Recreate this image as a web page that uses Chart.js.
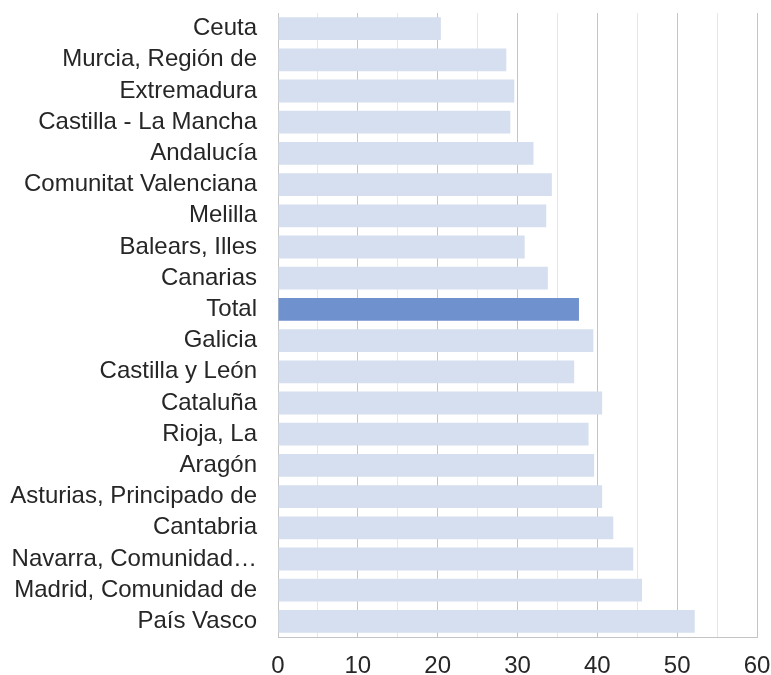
<!DOCTYPE html>
<html>
<head>
<meta charset="utf-8">
<script src="https://cdn.jsdelivr.net/npm/chart.js@4/dist/chart.umd.min.js"></script>
<style>
  html, body { margin: 0; padding: 0; background: #ffffff; }
  #wrap { width: 771px; height: 675px; position: relative; }
</style>
</head>
<body>
<div id="wrap"><canvas id="c" width="771" height="675"></canvas></div>
<script>
const categories = [
  "Ceuta", "Murcia, Región de", "Extremadura", "Castilla - La Mancha", "Andalucía",
  "Comunitat Valenciana", "Melilla", "Balears, Illes", "Canarias", "Total",
  "Galicia", "Castilla y León", "Cataluña", "Rioja, La", "Aragón",
  "Asturias, Principado de", "Cantabria", "Navarra, Comunidad…", "Madrid, Comunidad de", "País Vasco"
];
const values = [
  20.4, 28.6, 29.6, 29.1, 32.0,
  34.3, 33.6, 30.9, 33.8, 37.7,
  39.5, 37.1, 40.6, 38.9, 39.6,
  40.6, 42.0, 44.5, 45.6, 52.2
];
const highlightCategory = "Total";
const xTicks = [0, 10, 20, 30, 40, 50, 60];

const lightColor = "#D5DFEF";
const darkColor = "#6F91CD";

Chart.defaults.font.family = "'Liberation Sans', Arial, sans-serif";
Chart.defaults.color = "#262626";

new Chart(document.getElementById("c"), {
  type: "bar",
  data: {
    labels: categories,
    datasets: [{
      data: values,
      backgroundColor: categories.map(c => c === highlightCategory ? darkColor : lightColor),
      borderWidth: 0,
      barPercentage: 0.73,
      categoryPercentage: 1.0
    }]
  },
  options: {
    indexAxis: "y",
    responsive: false,
    animation: false,
    devicePixelRatio: 1,
    layout: { padding: { top: 13, right: 14, bottom: 0, left: 0 } },
    plugins: { legend: { display: false }, tooltip: { enabled: false } },
    scales: {
      x: {
        min: xTicks[0],
        max: xTicks[xTicks.length - 1],
        ticks: {
          stepSize: 5,
          autoSkip: false,
          maxRotation: 0,
          padding: 15,
          font: { size: 24 },
          color: "#262626",
          callback: (v) => (xTicks.includes(v) ? String(v) : "")
        },
        grid: {
          drawTicks: false,
          lineWidth: 1,
          color: (ctx) => (ctx.tick && ctx.tick.value % 10 === 0 ? "#c4c4c4" : "#e6e6e6")
        },
        border: { display: true, color: "#c4c4c4" },
        afterFit: (s) => { s.height = 38; s.paddingLeft = 0; s.paddingRight = 0; }
      },
      y: {
        ticks: {
          autoSkip: false,
          padding: 21,
          font: { size: 24 },
          color: "#262626"
        },
        grid: { display: false, drawTicks: false },
        border: { display: true, color: "#c4c4c4" },
        afterFit: (s) => { s.width = 278; s.paddingTop = 0; s.paddingBottom = 0; }
      }
    }
  }
});
</script>
</body>
</html>
